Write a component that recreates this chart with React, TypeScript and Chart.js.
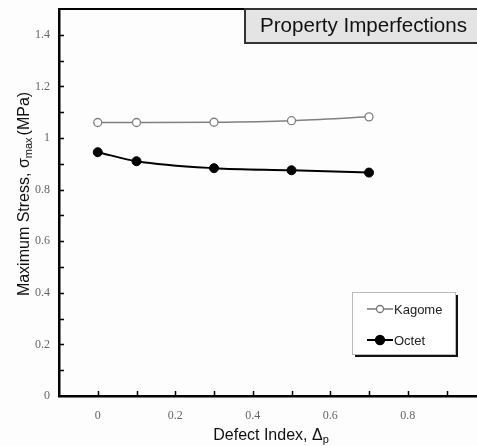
import React, { useEffect, useRef } from "react";
import { Chart, registerables } from "chart.js";

Chart.register(...registerables);

const defectIndex = [0, 0.1, 0.3, 0.5, 0.7];
const kagomeStress = [1.06, 1.06, 1.061, 1.067, 1.082];
const octetStress = [0.945, 0.91, 0.883, 0.875, 0.866];
const xTickValues = [0, 0.2, 0.4, 0.6, 0.8];
const yTickValues = [0, 0.2, 0.4, 0.6, 0.8, 1.0, 1.2, 1.4];
const xMinorTicks = [0, 0.1, 0.2, 0.3, 0.4, 0.5, 0.6, 0.7, 0.8, 0.9];
const yMinorTicks = [0.1, 0.2, 0.3, 0.4, 0.5, 0.6, 0.7, 0.8, 0.9, 1.0, 1.1, 1.2, 1.3, 1.4];
const seriesNames = ["Kagome", "Octet"];
const chartTitle = "Property Imperfections";

const SANS = '"Liberation Sans", Arial, sans-serif';
const SERIF = '"Liberation Serif", "Times New Roman", serif';

const fmt = (v: number) => String(Math.round(v * 10) / 10);

const decorPlugin = {
  id: "decor",
  afterDraw(chart: any) {
    const { ctx, chartArea: a, scales } = chart;
    const x = scales.x;
    const y = scales.y;
    ctx.save();

    // top border
    ctx.strokeStyle = "#000";
    ctx.lineWidth = 2;
    ctx.beginPath();
    ctx.moveTo(a.left - 1, a.top);
    ctx.lineTo(a.right + 2, a.top);
    ctx.stroke();

    // inward ticks
    ctx.lineWidth = 1.5;
    ctx.beginPath();
    for (const v of xMinorTicks) {
      const px = Math.round(x.getPixelForValue(v)) + 0.5;
      ctx.moveTo(px, a.bottom);
      ctx.lineTo(px, a.bottom - 5);
    }
    for (const v of yMinorTicks) {
      const py = Math.round(y.getPixelForValue(v)) + 0.5;
      ctx.moveTo(a.left, py);
      ctx.lineTo(a.left + 5, py);
    }
    ctx.stroke();

    // title box
    const bx = 245, by = a.top, bw = a.right - 245 + 4, bh = 34;
    ctx.fillStyle = "#e4e4e4";
    ctx.fillRect(bx, by, bw, bh);
    ctx.strokeStyle = "#333";
    ctx.lineWidth = 2;
    ctx.strokeRect(bx, by, bw, bh);
    ctx.fillStyle = "#111";
    ctx.font = `18px ${SANS}`;
    const tw = ctx.measureText(chartTitle).width;
    const fs = 18 * 207 / tw;
    ctx.font = `${fs.toFixed(2)}px ${SANS}`;
    ctx.textAlign = "left";
    ctx.textBaseline = "alphabetic";
    ctx.fillText(chartTitle, 260, 32);

    // legend box
    const lx = 352, ly = 292, lw = 103, lh = 62;
    ctx.fillStyle = "#111";
    ctx.fillRect(lx + 3, ly + 3, lw, lh);
    ctx.fillStyle = "#fff";
    ctx.fillRect(lx, ly, lw, lh);
    ctx.strokeStyle = "#bbb";
    ctx.lineWidth = 1;
    ctx.strokeRect(lx + 0.5, ly + 0.5, lw, lh);

    const rows = [
      { name: seriesNames[0], yy: 309, color: "#777", fill: "#fff", lw: 1.5, r: 3.5 },
      { name: seriesNames[1], yy: 340, color: "#000", fill: "#000", lw: 2, r: 4.5 },
    ];
    for (const r of rows) {
      ctx.strokeStyle = r.color;
      ctx.lineWidth = r.lw;
      ctx.beginPath();
      ctx.moveTo(367, r.yy);
      ctx.lineTo(393, r.yy);
      ctx.stroke();
      ctx.beginPath();
      ctx.arc(380, r.yy, r.r, 0, Math.PI * 2);
      ctx.fillStyle = r.fill;
      ctx.fill();
      ctx.lineWidth = 1.3;
      ctx.stroke();
      ctx.fillStyle = "#222";
      ctx.font = `13px ${SANS}`;
      ctx.textBaseline = "middle";
      ctx.fillText(r.name, 394, r.yy + 1);
    }

    // x axis title
    ctx.fillStyle = "#111";
    ctx.textBaseline = "alphabetic";
    const main = `16px ${SANS}`;
    const sub = `11px ${SANS}`;
    ctx.font = main;
    const xt1 = "Defect Index, Δ";
    const w1 = ctx.measureText(xt1).width;
    ctx.font = sub;
    const w2 = ctx.measureText("p").width;
    const sx = 271 - (w1 + w2) / 2;
    ctx.font = main;
    ctx.fillText(xt1, sx, 440);
    ctx.font = sub;
    ctx.fillText("p", sx + w1, 443);

    // y axis title
    ctx.save();
    ctx.translate(29, 194);
    ctx.rotate(-Math.PI / 2);
    const p1 = "Maximum Stress, σ";
    const p2 = "max";
    const p3 = "(MPa)";
    ctx.font = main;
    const q1 = ctx.measureText(p1).width;
    const q3 = ctx.measureText(p3).width;
    ctx.font = sub;
    const q2 = ctx.measureText(p2).width;
    const total = q1 + q2 + 2 + q3;
    const cx = -total / 2;
    ctx.font = main;
    ctx.fillText(p1, cx, 0);
    ctx.font = sub;
    ctx.fillText(p2, cx + q1, 3);
    ctx.font = main;
    ctx.fillText(p3, cx + q1 + q2 + 2, 0);
    ctx.restore();

    ctx.restore();
  },
};

export default function App() {
  const ref = useRef<HTMLCanvasElement | null>(null);
  useEffect(() => {
    if (!ref.current) return;
    const chart = new Chart(ref.current, {
      type: "line",
      data: {
        datasets: [
          {
            label: seriesNames[0],
            data: defectIndex.map((v, i) => ({ x: v, y: kagomeStress[i] })),
            borderColor: "#808080",
            borderWidth: 1.5,
            pointRadius: 4,
            pointBackgroundColor: "#fff",
            pointBorderColor: "#808080",
            pointBorderWidth: 1.3,
            cubicInterpolationMode: "monotone",
            fill: false,
          },
          {
            label: seriesNames[1],
            data: defectIndex.map((v, i) => ({ x: v, y: octetStress[i] })),
            borderColor: "#000",
            borderWidth: 2,
            pointRadius: 4.5,
            pointBackgroundColor: "#000",
            pointBorderColor: "#000",
            pointBorderWidth: 1,
            cubicInterpolationMode: "monotone",
            fill: false,
          },
        ],
      },
      options: {
        responsive: false,
        animation: false,
        devicePixelRatio: 1,
        layout: { autoPadding: false, padding: { top: 9, right: 0, left: 0, bottom: 0 } },
        plugins: {
          legend: { display: false },
          tooltip: { enabled: false },
          title: { display: false },
        },
        scales: {
          x: {
            type: "linear",
            min: -0.1,
            max: 0.9787,
            afterFit: (s: any) => {
              s.height = 50;
              s.paddingLeft = 0;
              s.paddingRight = 0;
            },
            afterBuildTicks: (s: any) => {
              s.ticks = xTickValues.map((v) => ({ value: v }));
            },
            grid: { display: false, drawTicks: false },
            border: { display: true, color: "#000", width: 2.5 },
            ticks: {
              padding: 13,
              color: "#666",
              font: { family: SERIF, size: 12 },
              callback: (v: any) => fmt(Number(v)),
              maxRotation: 0,
              autoSkip: false,
            },
          },
          y: {
            type: "linear",
            min: 0,
            max: 1.5,
            afterFit: (s: any) => {
              s.width = 59;
              s.paddingTop = 0;
              s.paddingBottom = 0;
            },
            afterBuildTicks: (s: any) => {
              s.ticks = yTickValues.map((v) => ({ value: v }));
            },
            grid: { display: false, drawTicks: false },
            border: { display: true, color: "#000", width: 2.5 },
            ticks: {
              padding: 9,
              color: "#666",
              font: { family: SERIF, size: 12 },
              callback: (v: any) => fmt(Number(v)),
              autoSkip: false,
            },
          },
        },
      },
      plugins: [decorPlugin],
    } as any);
    return () => chart.destroy();
  }, []);
  return (
    <div style={{ position: "absolute", left: 0, top: 0, width: 477, height: 446, background: "#fdfdfd" }}>
      <canvas ref={ref} width={477} height={446} style={{ display: "block" }} />
    </div>
  );
}
